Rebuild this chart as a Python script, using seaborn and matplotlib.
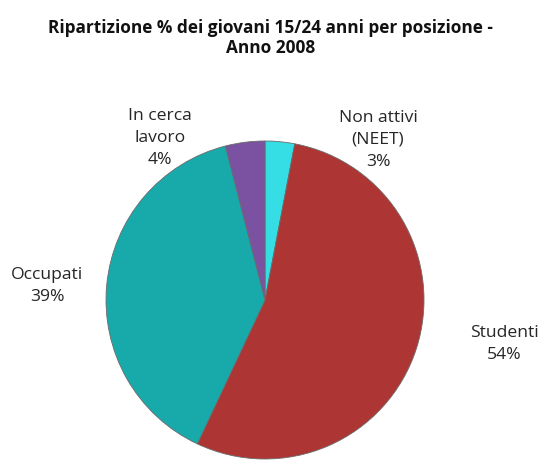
import matplotlib
matplotlib.use("Agg")
import matplotlib.pyplot as plt
import seaborn as sns

# Quote percentuali dei giovani 15/24 anni per posizione, anno 2008
categorie = ["Non attivi\n(NEET)", "Studenti", "Occupati", "In cerca\nlavoro"]
percentuali = [3, 54, 39, 4]
colori = ["#35DDE4", "#AD3634", "#18A9AB", "#7A52A1"]
titolo = "Ripartizione % dei giovani 15/24 anni per posizione -\nAnno 2008"

sns.set_theme(style="white")
plt.rcParams["font.family"] = ["Open Sans", "DejaVu Sans"]

W, H = 541, 461
fig = plt.figure(figsize=(W / 100, H / 100), dpi=100)
ax = fig.add_axes([0, 0, 1, 1])

cx, cy, r = 265, H - 300, 159
wedges, _ = ax.pie(
    percentuali,
    colors=colori,
    startangle=90,
    counterclock=False,
    center=(cx, cy),
    radius=r,
    wedgeprops=dict(edgecolor="#6b6b6b", linewidth=0.6),
    frame=True,
)
ax.set_xlim(0, W)
ax.set_ylim(0, H)
ax.set_aspect("equal")
ax.axis("off")

# posizioni delle etichette (pixel, origine in alto a sinistra)
pos_etichette = [(378, 140), (504, 344), (47, 286), (160, 138)]
for nome, val, (x, y) in zip(categorie, percentuali, pos_etichette):
    ax.text(x, H - y, f"{nome}\n{val}%", ha="center", va="center",
            fontsize=12.6, color="#262626", linespacing=1.5)

fig.text(0.5, 1 - 38 / H, titolo, ha="center", va="center",
         fontsize=12.4, fontweight="bold", color="#111111", linespacing=1.1)

fig.savefig("out.png", dpi=100, facecolor="white")
